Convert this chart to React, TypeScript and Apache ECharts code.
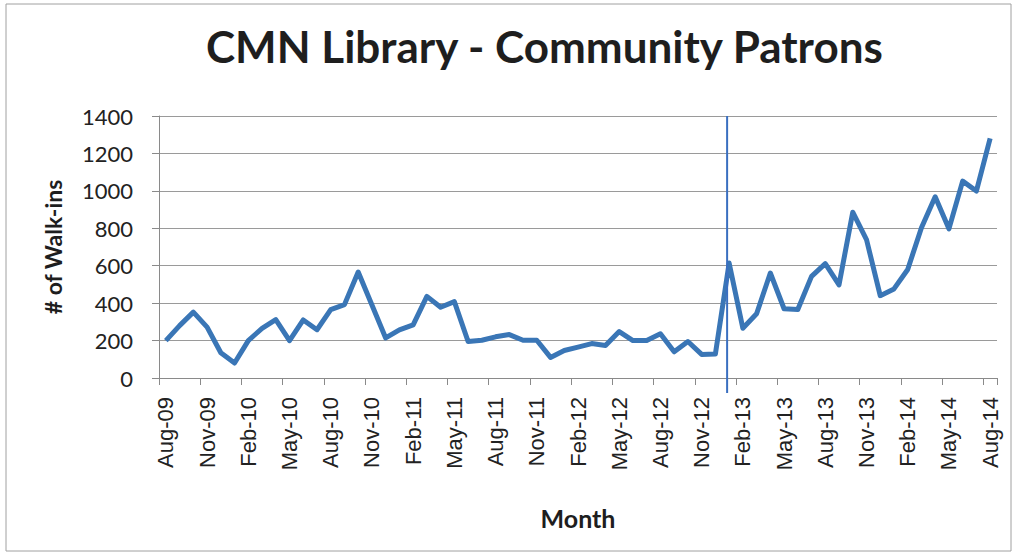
import React, { useEffect, useRef } from "react";
import * as echarts from "echarts";

const months: string[] = [
  "Aug-09", "Sep-09", "Oct-09", "Nov-09", "Dec-09",
  "Jan-10", "Feb-10", "Mar-10", "Apr-10", "May-10", "Jun-10", "Jul-10", "Aug-10", "Sep-10", "Oct-10", "Nov-10", "Dec-10",
  "Jan-11", "Feb-11", "Mar-11", "Apr-11", "May-11", "Jun-11", "Jul-11", "Aug-11", "Sep-11", "Oct-11", "Nov-11", "Dec-11",
  "Jan-12", "Feb-12", "Mar-12", "Apr-12", "May-12", "Jun-12", "Jul-12", "Aug-12", "Sep-12", "Oct-12", "Nov-12", "Dec-12",
  "Jan-13", "Feb-13", "Mar-13", "Apr-13", "May-13", "Jun-13", "Jul-13", "Aug-13", "Sep-13", "Oct-13", "Nov-13", "Dec-13",
  "Jan-14", "Feb-14", "Mar-14", "Apr-14", "May-14", "Jun-14", "Jul-14", "Aug-14",
];

const walkIns: number[] = [
  200, 280, 352, 272, 135,
  80, 200, 265, 312, 200, 310, 258, 365, 392, 566, 390, 214,
  257, 284, 436, 378, 408, 195, 202, 220, 232, 202, 202, 110,
  147, 165, 184, 174, 248, 200, 200, 236, 140, 195, 126, 128,
  614, 266, 343, 561, 370, 366, 543, 611, 498, 886, 740, 440,
  476, 580, 803, 968, 797, 1052, 999, 1280,
];

const markerMonth = "Jan-13";
const yTicks = { min: 0, max: 1400, interval: 200 };

const titleText = "CMN Library - Community Patrons";
const yName = "# of Walk-ins";
const xName = "Month";

export default function App() {
  const ref = useRef<HTMLDivElement>(null);
  useEffect(() => {
    if (!ref.current) return;
    const chart = echarts.init(ref.current, undefined, { renderer: "svg" });
    const gridLeft = 159;
    const gridTop = 116;
    const gridW = 838;
    const gridH = 262;
    const border = {
      type: "rect",
      shape: { x: 6, y: 4, width: 1005, height: 547 },
      style: { fill: "none", stroke: "#a0a0a0", lineWidth: 1 },
      silent: true,
    };
    chart.setOption({
      animation: false,
      backgroundColor: "#ffffff",
      title: {
        text: titleText,
        left: 201,
        top: 19,
        textStyle: {
          fontFamily: "Lato",
          fontWeight: "bold",
          fontSize: 44,
          color: "#1e1e1e",
        },
      },
      grid: { left: gridLeft, top: gridTop, width: gridW, height: gridH },
      xAxis: {
        type: "category",
        data: months,
        boundaryGap: true,
        name: xName,
        nameLocation: "middle",
        nameGap: 127,
        nameTextStyle: { fontFamily: "Lato", fontWeight: "bold", fontSize: 25, color: "#1e1e1e" },
        axisLine: { lineStyle: { color: "#8a8a8a", width: 1 } },
        axisTick: { show: true, interval: 2, length: 7, lineStyle: { color: "#8a8a8a" } },
        axisLabel: {
          interval: 2,
          rotate: 90,
          margin: 19,
          fontFamily: "Liberation Sans",
          fontSize: 22,
          color: "#222222",
        },
        splitLine: { show: false },
      },
      yAxis: {
        type: "value",
        min: yTicks.min,
        max: yTicks.max,
        interval: yTicks.interval,
        name: yName,
        nameLocation: "middle",
        nameGap: 95,
        nameTextStyle: { fontFamily: "Lato", fontWeight: "bold", fontSize: 23, color: "#1e1e1e" },
        axisLine: { show: true, lineStyle: { color: "#8a8a8a", width: 1 } },
        axisTick: { show: true, length: 7, lineStyle: { color: "#8a8a8a" } },
        axisLabel: {
          margin: 26,
          fontFamily: "Lato",
          fontSize: 22,
          color: "#222222",
          formatter: (v: number) => String(v),
        },
        splitLine: { show: true, lineStyle: { color: "#9a9a9a", width: 1 } },
      },
      series: [
        {
          type: "line",
          data: walkIns,
          symbol: "none",
          lineStyle: { color: "#3a76b6", width: 5, join: "round" },
        },
      ],
      graphic: [border],
    });
    const px = chart.convertToPixel({ xAxisIndex: 0 }, markerMonth) as number;
    const topPx = chart.convertToPixel({ yAxisIndex: 0 }, yTicks.max) as number;
    const zeroPx = chart.convertToPixel({ yAxisIndex: 0 }, yTicks.min) as number;
    chart.setOption({
      graphic: [
        border,
        {
          type: "line",
          shape: { x1: px - 2, y1: topPx, x2: px - 2, y2: zeroPx + 15 },
          style: { stroke: "#3a6fc0", lineWidth: 2 },
          z: 10,
          silent: true,
        },
      ],
    });
    return () => chart.dispose();
  }, []);
  return (
    <div
      ref={ref}
      style={{ position: "fixed", left: 0, top: 0, width: 1016, height: 558 }}
    />
  );
}
